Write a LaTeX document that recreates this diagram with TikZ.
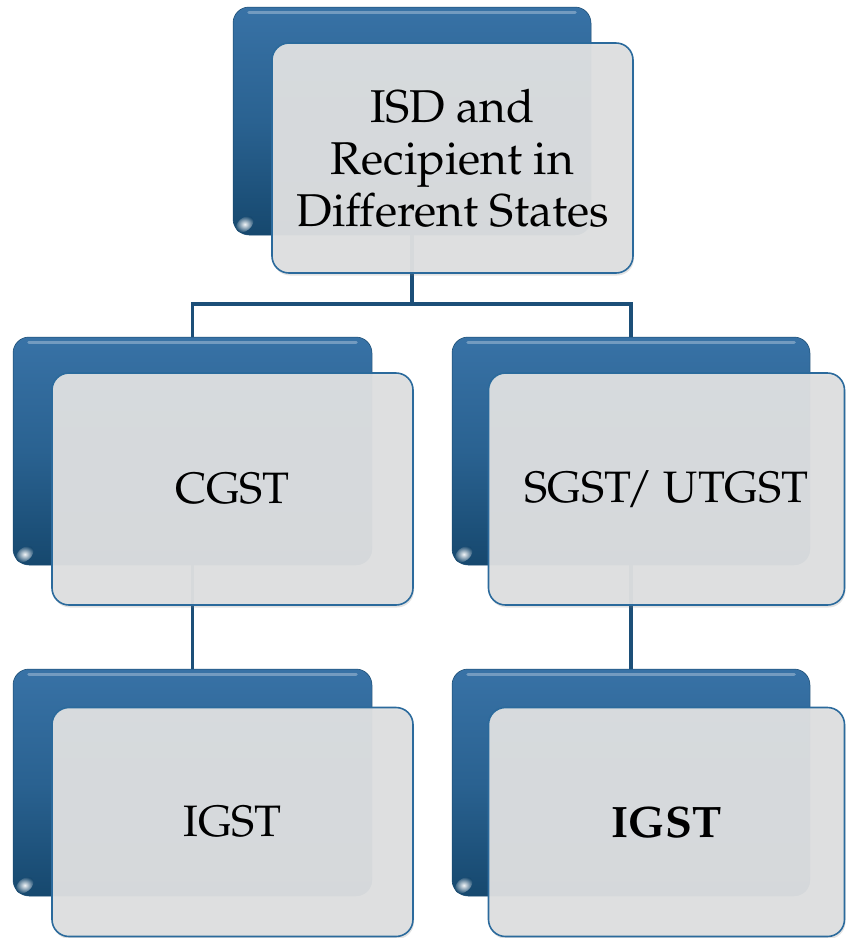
\documentclass[tikz,border=0pt]{standalone}
\usepackage[T1]{fontenc}
\usepackage{mathpazo}
\usetikzlibrary{shadows}

\definecolor{boxtop}{RGB}{56,114,166}
\definecolor{boxmid}{RGB}{42,98,145}
\definecolor{boxbot}{RGB}{22,72,110}
\definecolor{cardfill}{RGB}{223,224,225}
\definecolor{cardedge}{RGB}{43,106,156}
\definecolor{linkcol}{RGB}{28,79,120}

\tikzset{
  backbox/.style={rectangle, rounded corners=16pt, inner sep=0pt,
    top color=boxtop, bottom color=boxbot, middle color=boxmid,
    draw=boxbot, line width=0.5pt},
  frontbox/.style={rectangle, rounded corners=17pt, inner sep=0pt,
    fill=cardfill, fill opacity=0.95, text opacity=1,
    draw=cardedge, line width=1.6pt, align=center,
    drop shadow={opacity=0.22, shadow xshift=1pt, shadow yshift=-2.5pt},
    font=\fontsize{44}{49}\selectfont},
  link/.style={draw=linkcol, line width=3.5pt},
  sheen/.style={draw=white, draw opacity=0.3, line width=3pt, line cap=round},
  glint/.style={inner color=white, outer color=boxbot, opacity=0.95}
}

\begin{document}
\begin{tikzpicture}[x=1pt, y=-1pt]
\useasboundingbox (0,0) rectangle (846,938);

% back panels
\node[backbox, minimum width=358pt, minimum height=228pt] (tb)  at (412,121) {};
\node[backbox, minimum width=359pt, minimum height=228pt] (lb)  at (192.5,451) {};
\node[backbox, minimum width=358pt, minimum height=228pt] (rb)  at (631,451) {};
\node[backbox, minimum width=359pt, minimum height=227pt] (lbb) at (192.5,782.5) {};
\node[backbox, minimum width=358pt, minimum height=227pt] (rbb) at (631,782.5) {};

% glossy strip along the top and glint in the lower left corner
\foreach \p in {tb,lb,rb,lbb,rbb}{
  \draw[sheen] ([xshift=16pt,yshift=-6pt]\p.north west) -- ([xshift=-16pt,yshift=-6pt]\p.north east);
  \begin{scope}[shift={([xshift=12pt,yshift=11pt]\p.south west)}, rotate=40]
    \shade[glint] (0,0) ellipse (10pt and 6.5pt);
  \end{scope}
}

% connectors
\coordinate (hub) at (412,304);
\draw[link] (tb.south) -- (hub);
\draw[link] (hub) -| (lb.north);
\draw[link] (hub) -| (rb.north);
\draw[link] (lb.south) -- (lbb.north);
\draw[link] (rb.south) -- (rbb.north);

% front cards
\node[frontbox, minimum width=361pt, minimum height=230pt,
      font=\fontsize{46}{52}\selectfont] (top) at (452.5,158)
  {ISD and\\Recipient in\\Different States};
\node[frontbox, minimum width=361pt, minimum height=232pt] (cg) at (232.5,489) {CGST};
\node[frontbox, minimum width=356pt, minimum height=232pt] (sg) at (666.5,489) {SGST\kern-5pt/ UTGST};
\node[frontbox, minimum width=361pt, minimum height=229pt] (ig1) at (232.5,822) {IGST};
\node[frontbox, minimum width=356pt, minimum height=229pt] (ig2) at (666.5,822) {\bfseries IGST};

\end{tikzpicture}
\end{document}
